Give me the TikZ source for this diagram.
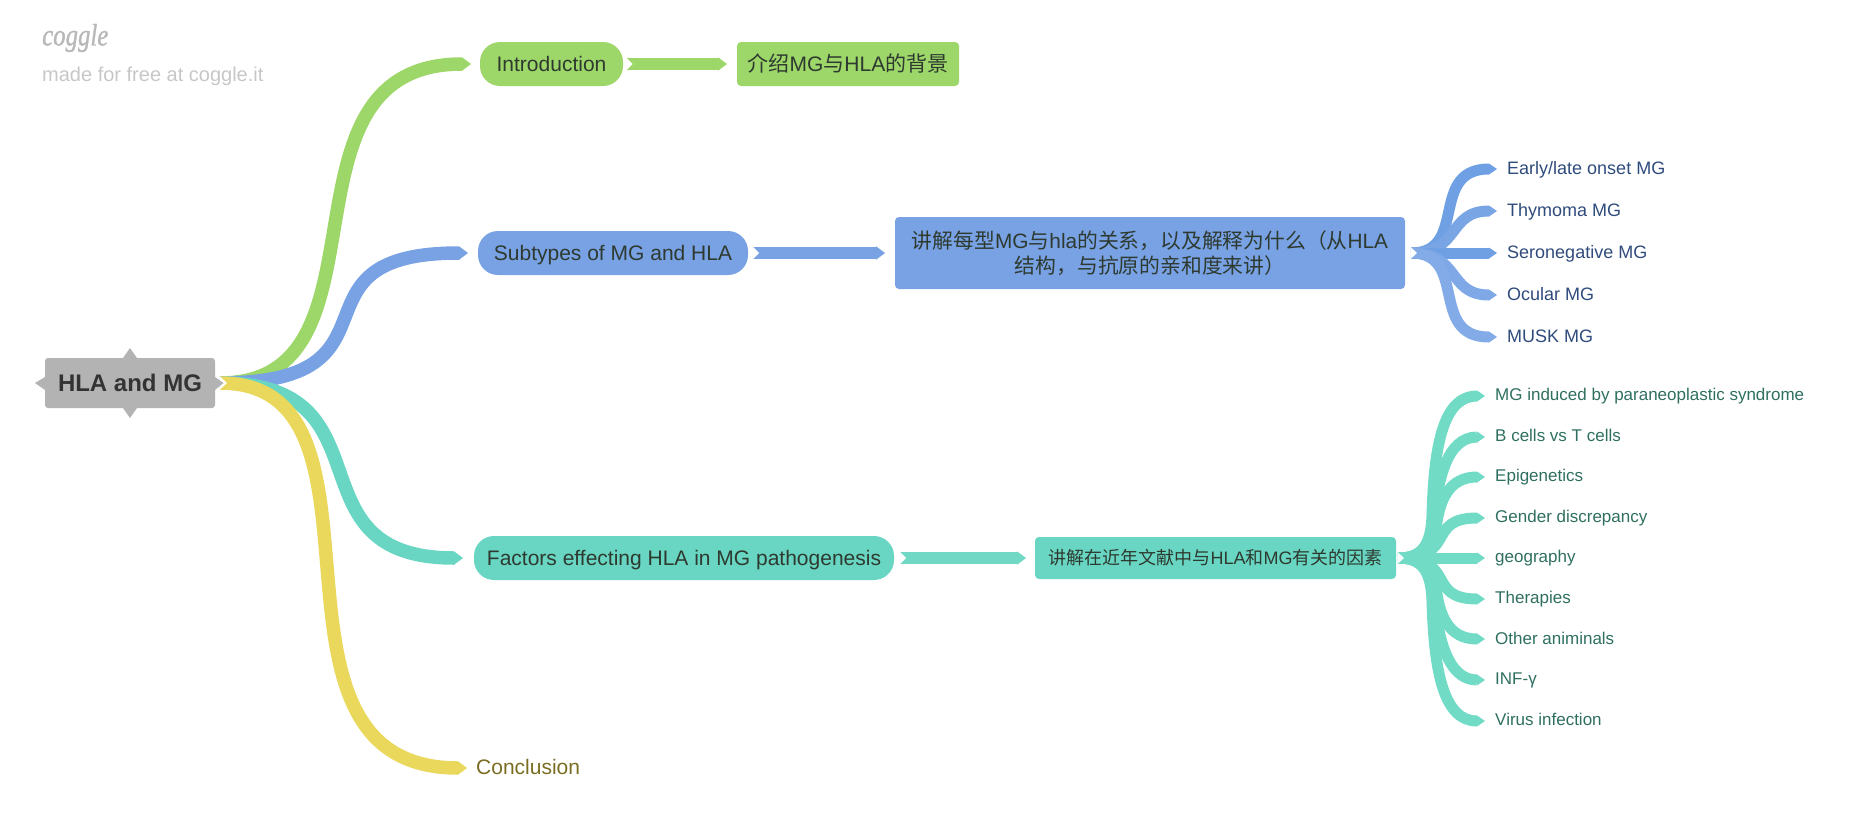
\documentclass[tikz,border=0pt]{standalone}
\usepackage{fontspec}
\setmainfont{Liberation Sans}
\newfontfamily\cjk{Noto Sans CJK SC}
\newfontfamily\logofont[FakeStretch=0.8,FakeBold=1]{Liberation Serif}
\usetikzlibrary{arrows.meta}
\newcommand{\zh}[1]{{\cjk #1}}
\definecolor{cgreen}{HTML}{9DD669}
\definecolor{cblue}{HTML}{78A2E4}
\definecolor{cteal}{HTML}{68D6C2}
\definecolor{cyellow}{HTML}{EAD85C}
\definecolor{cgrey}{HTML}{B3B3B3}
\definecolor{tdark}{HTML}{2E3A30}
\definecolor{tblue}{HTML}{2F4B7C}
\definecolor{tteal}{HTML}{2F6F60}
\definecolor{tyellow}{HTML}{7A6D22}
\definecolor{bsa}{HTML}{6FA0E4}
\definecolor{bsb}{HTML}{7AA5E5}
\definecolor{bsc}{HTML}{7FA9E6}
\definecolor{bsd}{HTML}{82ABE7}
\definecolor{tsa}{HTML}{72DBC6}
\tikzset{
  ribbon/.style={line width=13.5pt,line cap=butt,draw=#1,-{Triangle[length=9pt,width=13.5pt,line width=0pt,fill=#1,color=#1]}},
  thinrib/.style={line width=11pt,line cap=butt,draw=#1,-{Triangle[length=8pt,width=11pt,line width=0pt,fill=#1,color=#1]}},
  pill/.style={fill=#1,rounded corners=20pt,inner sep=0pt,text=tdark,font=\fontsize{21}{25}\selectfont,text height=15pt,text depth=0pt},
  boxn/.style={fill=#1,rounded corners=4pt,inner sep=0pt,text=tdark,font=\fontsize{21}{25}\selectfont,align=center},
  bluelab/.style={anchor=west,inner sep=0pt,text=tblue,font=\fontsize{18}{22}\selectfont,text height=13pt,text depth=0pt},
  teallab/.style={anchor=west,inner sep=0pt,text=tteal,font=\fontsize{17}{21}\selectfont,text height=12.2pt,text depth=0pt},
}
\begin{document}
\begin{tikzpicture}[x=1pt,y=-1pt]
\useasboundingbox (0,0) rectangle (1850,828);
% logo
\node[anchor=west,inner sep=0pt,text=black!28,font=\fontsize{31}{34}\logofont\itshape] (logo) at (42,38) {coggle};
\node[anchor=west,inner sep=0pt,text=black!22,font=\fontsize{20}{24}\selectfont] (made) at (42,76) {made for free at coggle.it};
% root
\fill[cgrey] (123,358) -- (130,348) -- (137,358) -- cycle;
\fill[cgrey] (123,408) -- (130,418) -- (137,408) -- cycle;
\fill[cgrey] (45,377) -- (35,383) -- (45,390) -- cycle;
\node[fill=cgrey,rounded corners=3pt,inner sep=0pt,minimum width=170pt,minimum height=50pt,text=black!80,font=\fontsize{24}{28}\selectfont\bfseries] (root) at (130,383) {HLA and MG};
% nodes
\node[pill=cgreen,minimum width=143pt,minimum height=44pt] (intro) at (551.5,64) {Introduction};
\node[boxn=cgreen,minimum width=222pt,minimum height=44pt,text height=17pt,text depth=3pt] (introbox) at (848,64) {\zh{介绍}MG\zh{与}HLA\zh{的背景}};
\node[pill=cblue,minimum width=270pt,minimum height=44pt] (sub) at (613,253) {Subtypes of MG and HLA};
\node[boxn=cblue,minimum width=510pt,minimum height=72pt,font=\fontsize{20.8}{25}\selectfont] (subbox) at (1150,253) {\zh{讲解每型}MG\zh{与}hla\zh{的关系，以及解释为什么（从}HLA\\\zh{结构，与抗原的亲和度来讲）}};
\node[pill=cteal,minimum width=420pt,minimum height=44pt] (fac) at (684,558) {Factors effecting HLA in MG pathogenesis};
\node[boxn=cteal,minimum width=361pt,minimum height=42pt,font=\fontsize{18}{22}\selectfont] (facbox) at (1215.5,558) {\zh{讲解在近年文献中与}HLA\zh{和}MG\zh{有关的因素}};
\node[anchor=west,inner sep=0pt,text=tyellow,font=\fontsize{21}{25}\selectfont] (concl) at (476,767) {Conclusion};
% labels
\node[bluelab] (b1) at (1507,168) {Early/late onset MG};
\node[bluelab] (b2) at (1507,210) {Thymoma MG};
\node[bluelab] (b3) at (1507,252) {Seronegative MG};
\node[bluelab] (b4) at (1507,294) {Ocular MG};
\node[bluelab] (b5) at (1507,336) {MUSK MG};
\node[teallab] (t1) at (1495,394.4) {MG induced by paraneoplastic syndrome};
\node[teallab] (t2) at (1495,435) {B cells vs T cells};
\node[teallab] (t3) at (1495,475.6) {Epigenetics};
\node[teallab] (t4) at (1495,516) {Gender discrepancy};
\node[teallab] (t5) at (1495,556.7) {geography};
\node[teallab] (t6) at (1495,597.3) {Therapies};
\node[teallab] (t7) at (1495,637.9) {Other animinals};
\node[teallab] (t8) at (1495,678.4) {INF-γ};
\node[teallab] (t9) at (1495,719) {Virus infection};
% ports
\coordinate (rootout) at (220,383);
\coordinate (introin) at (471,64);
\coordinate (subin) at (468,253);
\coordinate (facin) at (463,558);
\coordinate (conclin) at (467,768);
\coordinate (introout) at (626.5,64);
\coordinate (introboxin) at (727,64);
\coordinate (subout) at (753,253);
\coordinate (subboxin) at (885,253);
\coordinate (facout) at (900,558);
\coordinate (facboxin) at (1026,558);
\coordinate (subboxout) at (1411,253);
\coordinate (facboxout) at (1398,558);
\foreach \n/\y in {1/169,2/211,3/253,4/295,5/337}{\coordinate (bi\n) at (1497,\y);}
\foreach \n/\y in {1/396,2/437,3/477,4/518,5/558,6/599,7/639,8/680,9/721}{\coordinate (ti\n) at (1485,\y);}
% main ribbons
\draw[ribbon=cgreen] (rootout) .. controls +(180,0) and +(-205,0) .. (introin);
\draw[ribbon=cblue] (rootout) .. controls +(195,0) and +(-190,0) .. (subin);
\draw[ribbon=cteal] (rootout) .. controls +(175,0) and +(-178,0) .. (facin);
\draw[ribbon=cyellow] (rootout) .. controls +(190,0) and +(-229,0) .. (conclin);
% second level
\draw[ribbon=cgreen,line width=12pt] (introout) -- (introboxin);
\draw[ribbon=cblue,line width=12pt] (subout) -- (subboxin);
\draw[ribbon=cteal!95!white,line width=12pt] (facout) -- (facboxin);
% third level blue
\draw[thinrib=bsa] (subboxout) .. controls +(58,0) and +(-69,0) .. (bi1);
\draw[thinrib=bsb] (subboxout) .. controls +(50,0) and +(-50,0) .. (bi2);
\draw[thinrib=bsa] (subboxout) -- (bi3);
\draw[thinrib=bsc] (subboxout) .. controls +(50,0) and +(-50,0) .. (bi4);
\draw[thinrib=bsd] (subboxout) .. controls +(58,0) and +(-69,0) .. (bi5);
% third level teal
\draw[thinrib=tsa] (facboxout) .. controls +(24,0) and (1431,545) .. (1432,515) .. controls (1434,440) and (1445,396) .. (ti1);
\draw[thinrib=tsa] (facboxout) .. controls +(24,0) and (1433,545) .. (1434,525) .. controls (1437,480) and (1447,437) .. (ti2);
\draw[thinrib=tsa] (facboxout) .. controls +(24,0) and (1435,550) .. (1436,530) .. controls (1439,500) and (1449,477) .. (ti3);
\draw[thinrib=tsa] (facboxout) .. controls +(60,0) and +(-60,0) .. (ti4);
\draw[thinrib=tsa] (facboxout) -- (ti5);
\draw[thinrib=tsa] (facboxout) .. controls +(60,0) and +(-60,0) .. (ti6);
\draw[thinrib=tsa] (facboxout) .. controls +(24,0) and (1435,566) .. (1436,586) .. controls (1439,616) and (1449,639) .. (ti7);
\draw[thinrib=tsa] (facboxout) .. controls +(24,0) and (1433,571) .. (1434,591) .. controls (1437,636) and (1447,680) .. (ti8);
\draw[thinrib=tsa] (facboxout) .. controls +(24,0) and (1431,571) .. (1432,601) .. controls (1434,676) and (1445,721) .. (ti9);
% tail notches
\foreach \p/\h/\d in {rootout/6.5/7,introout/6/6,subout/6/6,facout/6/6,subboxout/5.5/6,facboxout/5.5/6}{
  \fill[white] (\p) ++(-0.5,-\h-0.5) -- ++(\d+0.5,\h+0.5) -- ++(-\d-0.5,\h+0.5) -- cycle;
}
\fill[cgrey] (215,377) -- (223.5,383) -- (215,390) -- cycle;
\end{tikzpicture}
\end{document}
